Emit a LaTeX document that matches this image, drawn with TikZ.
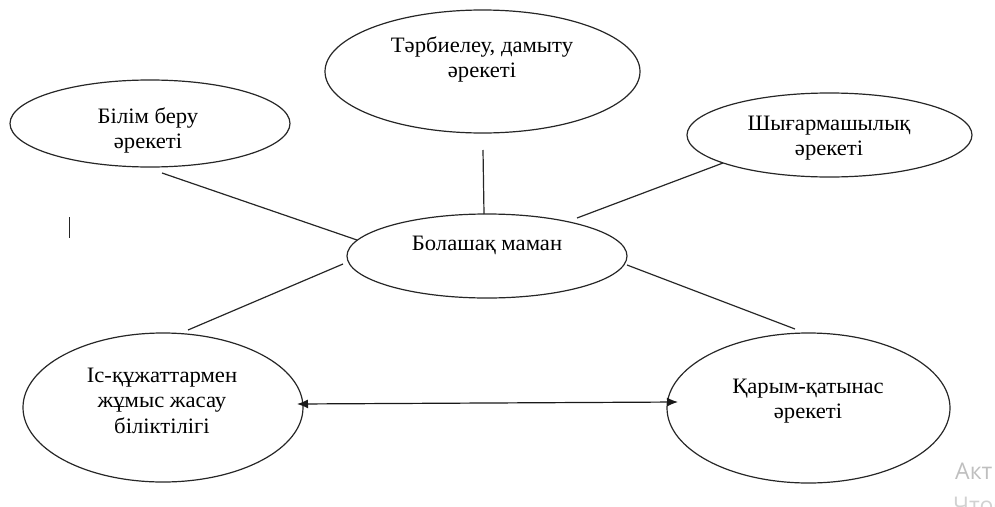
\documentclass[tikz,border=0pt]{standalone}
\usepackage{fontspec}
\setmainfont{Liberation Serif}[FakeStretch=1.03]
\newfontfamily\wmfont{Open Sans}
\usetikzlibrary{shapes.geometric,arrows.meta}
\newcommand{\ovtext}[1]{\begin{tabular}[t]{@{}c@{}}#1\end{tabular}}
\begin{document}
\begin{tikzpicture}[x=1pt,y=-1pt,
  oval/.style={draw=black!85, ellipse, line width=1.2pt, inner sep=0pt, outer sep=0pt},
  lbl/.style={anchor=base, inner sep=0pt, text=black, font=\fontsize{22}{25.5}\selectfont},
  link/.style={draw=black!85, line width=1.2pt},
  biarrow/.style={draw=black!90, line width=1.2pt, {Latex[length=11pt,width=9pt]}-{Latex[length=11pt,width=9pt]}},
  wm/.style={anchor=base west, inner sep=0pt, text=black!25, font=\wmfont\fontsize{23}{26}\selectfont}]
\useasboundingbox (0,0) rectangle (995,506);
\clip (0,0) rectangle (995,506);

% ellipses
\node[oval, minimum width=280pt, minimum height=87pt] (bilim) at (150,123.5) {};
\node[oval, minimum width=315pt, minimum height=123pt] (tarbie) at (482.5,71.5) {};
\node[oval, minimum width=285pt, minimum height=84pt] (shyg) at (829.5,135) {};
\node[oval, minimum width=280pt, minimum height=84pt] (bolashak) at (487,256) {};
\node[oval, minimum width=280pt, minimum height=149pt] (is) at (163,407.5) {};
\node[oval, minimum width=283pt, minimum height=150pt] (karym) at (808.5,408) {};

% texts
\node[lbl] (tbilim) at (148,123) {\ovtext{Білім беру\\әрекеті}};
\node[lbl] (ttarbie) at (482,52) {\ovtext{Тәрбиелеу, дамыту\\әрекеті}};
\node[lbl] (tshyg) at (829,130) {\ovtext{Шығармашылық\\әрекеті}};
\node[lbl] (tbolashak) at (487,250) {\ovtext{Болашақ маман}};
\node[lbl] (tis) at (162,382) {\ovtext{Іс-құжаттармен\\жұмыс жасау\\біліктілігі}};
\node[lbl] (tkarym) at (808,393) {\ovtext{Қарым-қатынас\\әрекеті}};

% connector ends
\coordinate (l1a) at (162,173);  \coordinate (l1b) at (357,240);
\coordinate (l2a) at (483,150);  \coordinate (l2b) at (484,214);
\coordinate (l3a) at (723,163);  \coordinate (l3b) at (577,218);
\coordinate (l4a) at (343,264);  \coordinate (l4b) at (188,330);
\coordinate (l5a) at (627,265);  \coordinate (l5b) at (795,329);
\coordinate (arL) at (297,404);  \coordinate (arR) at (678,402);
\coordinate (stA) at (69,217);   \coordinate (stB) at (69,238);

\draw[link] (l1a) -- (l1b);
\draw[link] (l2a) -- (l2b);
\draw[link] (l3a) -- (l3b);
\draw[link] (l4a) -- (l4b);
\draw[link] (l5a) -- (l5b);
\draw[biarrow] (arL) -- (arR);
\draw[draw=black!85, line width=1pt] (stA) -- (stB);

% watermark
\node[wm] (wm1) at (955,479) {Акт};
\node[wm, text=black!18] (wm2) at (953,513) {Чтоб};
\end{tikzpicture}
\end{document}
